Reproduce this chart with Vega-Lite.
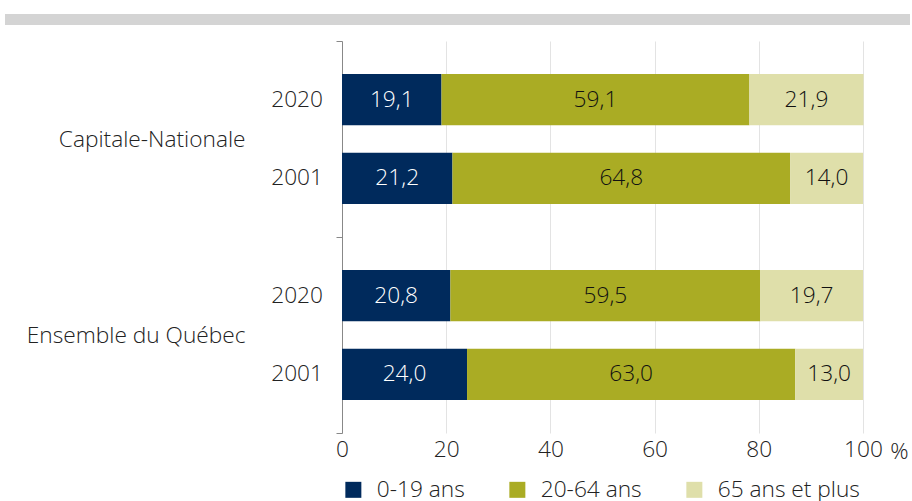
{
  "$schema": "https://vega.github.io/schema/vega-lite/v6.json",
  "padding": {"left": 5, "top": 13, "right": 2, "bottom": 0},
  "background": "white",
  "width": 521,
  "height": 392,
  "config": {
    "locale": {"number": {"decimal": ",", "thousands": " ", "grouping": [3], "currency": ["", " $"]}},
    "font": "Open Sans",
    "view": {"stroke": null},
    "legend": {"labelOffset": 12, "columnPadding": 41, "padding": 0}
  },
  "data": {
    "values": [
      {"region": "Capitale-Nationale", "year": "2020", "age": "0-19 ans", "ord": 1, "value": 19.1},
      {"region": "Capitale-Nationale", "year": "2020", "age": "20-64 ans", "ord": 2, "value": 59.1},
      {"region": "Capitale-Nationale", "year": "2020", "age": "65 ans et plus", "ord": 3, "value": 21.9},
      {"region": "Capitale-Nationale", "year": "2001", "age": "0-19 ans", "ord": 1, "value": 21.2},
      {"region": "Capitale-Nationale", "year": "2001", "age": "20-64 ans", "ord": 2, "value": 64.8},
      {"region": "Capitale-Nationale", "year": "2001", "age": "65 ans et plus", "ord": 3, "value": 14.0},
      {"region": "Ensemble du Québec", "year": "2020", "age": "0-19 ans", "ord": 1, "value": 20.8},
      {"region": "Ensemble du Québec", "year": "2020", "age": "20-64 ans", "ord": 2, "value": 59.5},
      {"region": "Ensemble du Québec", "year": "2020", "age": "65 ans et plus", "ord": 3, "value": 19.7},
      {"region": "Ensemble du Québec", "year": "2001", "age": "0-19 ans", "ord": 1, "value": 24.0},
      {"region": "Ensemble du Québec", "year": "2001", "age": "20-64 ans", "ord": 2, "value": 63.0},
      {"region": "Ensemble du Québec", "year": "2001", "age": "65 ans et plus", "ord": 3, "value": 13.0}
    ]
  },
  "transform": [
    {"stack": "value", "groupby": ["region", "year"], "sort": [{"field": "ord", "order": "ascending"}], "as": ["x0", "x1"]},
    {"calculate": "(datum.x0 + datum.x1) / 2", "as": "xm"}
  ],
  "resolve": {"scale": {"y": "independent"}, "axis": {"y": "independent"}},
  "layer": [
    {
      "transform": [{"filter": "datum.ord === 1 && datum.year === '2020' && datum.region === 'Capitale-Nationale'"}],
      "mark": {"type": "rect", "fill": "#d4d4d4", "clip": false},
      "encoding": {
        "x": {"datum": -64.68, "type": "quantitative"},
        "x2": {"datum": 109.02},
        "y": {
          "datum": 1.0689,
          "type": "quantitative",
          "scale": {"domain": [0, 1], "nice": false, "zero": false},
          "axis": null
        },
        "y2": {"datum": 1.0408}
      }
    },
    {
      "mark": {"type": "bar"},
      "encoding": {
        "y": {
          "field": "region",
          "type": "nominal",
          "sort": ["Capitale-Nationale", "Ensemble du Québec"],
          "scale": {"type": "band", "paddingInner": 0, "paddingOuter": 0},
          "axis": {
            "title": null,
            "orient": "left",
            "tickBand": "extent",
            "ticks": true,
            "tickSize": 6,
            "tickColor": "#888888",
            "domain": true,
            "domainColor": "#888888",
            "labelFontSize": 22.7,
            "labelFontWeight": 300,
            "labelColor": "#222222",
            "labelPadding": 91,
            "labelLimit": 0
          }
        },
        "yOffset": {
          "field": "year",
          "type": "nominal",
          "sort": ["2020", "2001"],
          "scale": {"type": "band", "paddingInner": 0.35, "paddingOuter": 0.42}
        },
        "x": {
          "field": "x0",
          "type": "quantitative",
          "scale": {"domain": [0, 100], "nice": false},
          "axis": {
            "values": [0, 20, 40, 60, 80, 100],
            "title": "%",
            "titleX": 557,
            "titleY": 25,
            "titleAlign": "center",
            "titleBaseline": "alphabetic",
            "titleFontSize": 22.7,
            "titleFontWeight": 300,
            "titleColor": "#222222",
            "labelFontSize": 22.7,
            "labelFontWeight": 300,
            "labelColor": "#222222",
            "labelPadding": 5,
            "labelFlush": false,
            "ticks": false,
            "domain": false,
            "grid": true,
            "gridColor": "#e3e3e3"
          }
        },
        "x2": {"field": "x1"},
        "color": {
          "field": "age",
          "type": "nominal",
          "scale": {
            "domain": ["0-19 ans", "20-64 ans", "65 ans et plus"],
            "range": ["#002a5c", "#aaac24", "#dfdfaa"]
          },
          "legend": {
            "orient": "bottom",
            "direction": "horizontal",
            "title": null,
            "symbolType": "square",
            "symbolSize": 256,
            "symbolStrokeWidth": 0,
            "labelFontSize": 22.7,
            "labelFontWeight": 300,
            "labelColor": "#222222",
            "labelOffset": 12,
            "columnPadding": 41,
            "padding": 0,
            "offset": 15
          }
        }
      }
    },
    {
      "mark": {"type": "text", "fontSize": 22.7, "fontWeight": 300},
      "encoding": {
        "y": {
          "field": "region",
          "type": "nominal",
          "sort": ["Capitale-Nationale", "Ensemble du Québec"],
          "scale": {"type": "band", "paddingInner": 0, "paddingOuter": 0},
          "axis": null
        },
        "yOffset": {
          "field": "year",
          "type": "nominal",
          "sort": ["2020", "2001"],
          "scale": {"type": "band", "paddingInner": 0.35, "paddingOuter": 0.42}
        },
        "x": {"field": "xm", "type": "quantitative"},
        "text": {"field": "value", "type": "quantitative", "format": ".1f"},
        "fill": {"condition": {"test": "datum.age === '0-19 ans'", "value": "#ffffff"}, "value": "#111111"}
      }
    },
    {
      "transform": [{"filter": "datum.ord === 1"}],
      "mark": {"type": "text", "fontSize": 22.7, "fontWeight": 300, "align": "right", "dx": -19, "fill": "#222222"},
      "encoding": {
        "y": {
          "field": "region",
          "type": "nominal",
          "sort": ["Capitale-Nationale", "Ensemble du Québec"],
          "scale": {"type": "band", "paddingInner": 0, "paddingOuter": 0},
          "axis": null
        },
        "yOffset": {
          "field": "year",
          "type": "nominal",
          "sort": ["2020", "2001"],
          "scale": {"type": "band", "paddingInner": 0.35, "paddingOuter": 0.42}
        },
        "x": {"datum": 0, "type": "quantitative"},
        "text": {"field": "year", "type": "nominal"}
      }
    }
  ]
}
